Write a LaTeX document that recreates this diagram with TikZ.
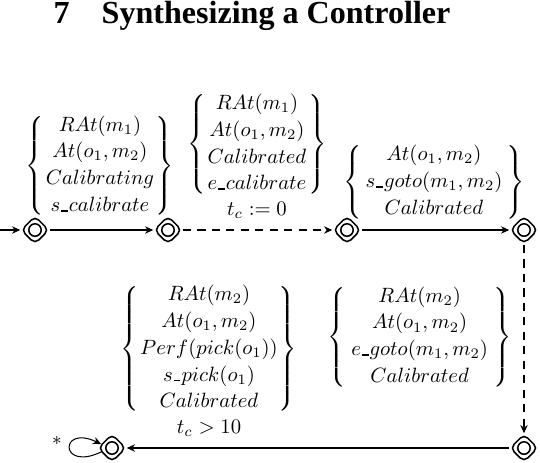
\documentclass[tikz,border=0pt]{standalone}
\usepackage{fontspec}
\newfontfamily\titlefont{Liberation Serif}
\usetikzlibrary{shapes.geometric,arrows.meta}
\renewcommand\arraystretch{1.08}
\newcommand\us{\mbox{\kern0.05em\rule{0.32em}{0.75pt}\kern0.05em}}
\newcommand\bset[2]{\left\{\begin{array}{@{\hspace{#1}}c@{\hspace{#1}}}#2\end{array}\right\}}
\begin{document}
\begin{tikzpicture}[x=0.4831pt,y=-0.4831pt,
  st/.style={diamond, draw, line width=0.75pt, rounded corners=2.5pt,
    minimum width=13.5pt, minimum height=13.5pt, inner sep=0pt,
    path picture={\draw[line width=0.75pt,sharp corners] (path picture bounding box.center) circle (3pt);}},
  arr/.style={-{Stealth[length=4pt,width=3.6pt]}, line width=0.5pt},
  dsh/.style={arr, dash pattern=on 4pt off 3pt},
  lab/.style={inner sep=0pt, align=center}]
\useasboundingbox (0,0) rectangle (540,462);
\node[anchor=base] (title) at (252,23.5) {\titlefont\bfseries\fontsize{15.5}{18}\selectfont 7\hspace{1em}Synthesizing a Controller};

\coordinate (s) at (0,230);
\node[st] (n1) at (35,230) {};
\node[st] (n2) at (168,230) {};
\node[st] (n3) at (347,230) {};
\node[st] (n4) at (524,230) {};
\node[st] (n5) at (524,448) {};
\node[st] (n6) at (112,448) {};

\draw[arr] (s) -- (n1);
\draw[arr] (n1) -- (n2);
\draw[dsh] (n2) -- (n3);
\draw[arr] (n3) -- (n4);
\draw[dsh] (n4) -- (n5);
\draw[arr] (n5) -- (n6);
\draw[arr] (n6.200) .. controls +(-42,20) and +(-42,-20) .. (n6.160);
\node[inner sep=0pt] (star) at (57,444) {\small *};

\node[lab, anchor=south] (l1) at (100,220) {$\bset{0.8pt}{RAt(m_1)\\ At(o_1,m_2)\\ Calibrating\\ s\us calibrate}$};
\node[lab, anchor=south] (l2) at (257,219) {$\bset{1pt}{RAt(m_1)\\ At(o_1,m_2)\\ Calibrated\\ e\us calibrate}$\\[1pt] $t_c := 0$};
\node[lab, anchor=south] (l3) at (434,223) {$\bset{1.8pt}{At(o_1,m_2)\\ s\us goto(m_1,m_2)\\ Calibrated}$};
\node[lab, anchor=east] (l4) at (512,337) {$\bset{2.5pt}{RAt(m_2)\\ At(o_1,m_2)\\ e\us goto(m_1,m_2)\\ Calibrated}$};
\node[lab, anchor=south] (l5) at (209,437) {$\bset{0.5pt}{RAt(m_2)\\ At(o_1,m_2)\\ Perf(pick(o_1))\\ s\us pick(o_1)\\ Calibrated}$\\[1pt] $t_c > 10$};
\end{tikzpicture}
\end{document}
